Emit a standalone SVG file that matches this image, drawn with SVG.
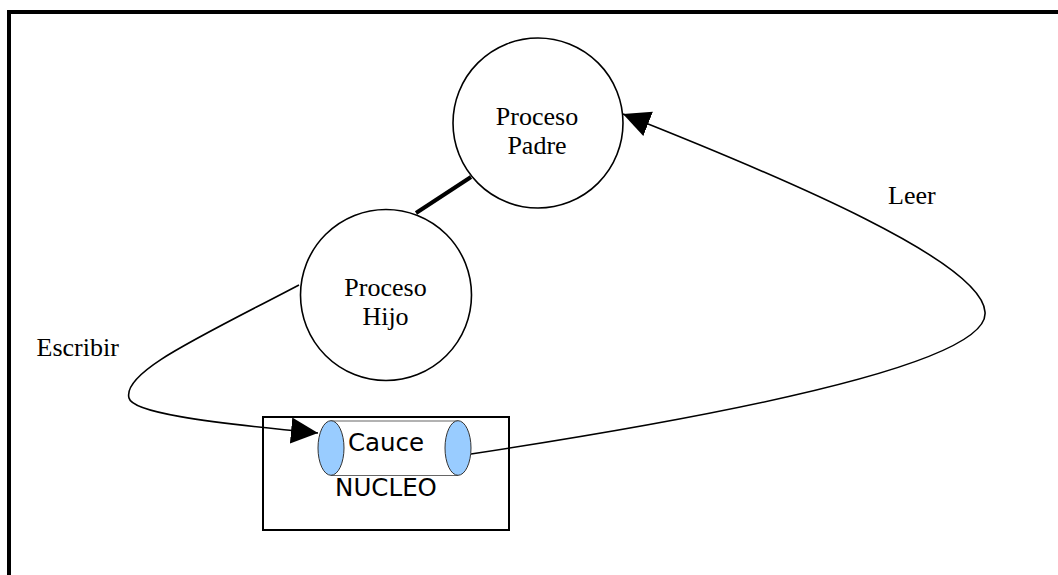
<svg xmlns="http://www.w3.org/2000/svg" width="1058" height="575" viewBox="0 0 1058 575">
  <style>
    .circ { fill: #ffffff; stroke: #000000; stroke-width: 1.6; }
    .serif { font-family: "Liberation Serif", "Times New Roman", serif; font-size: 26px; fill: #000000; }
    .sans { font-family: "DejaVu Sans", sans-serif; font-size: 24.5px; fill: #000000; }
    .conn { fill: none; stroke: #000000; stroke-width: 1.6; }
    .pipeEnd { fill: #99ccff; stroke: #333333; stroke-width: 1; }
  </style>
  <defs>
    <marker id="arrow" markerUnits="userSpaceOnUse" markerWidth="28" markerHeight="27" refX="27" refY="13" orient="auto">
      <path d="M0,0 L27,13 L0,26 Z" fill="#000000"/>
    </marker>
  </defs>
  <rect x="0" y="0" width="1058" height="575" fill="#ffffff"/>
  <rect id="frame" x="9" y="12" width="1070" height="590" fill="none" stroke="#000000" stroke-width="4"/>

  <g id="connectors">
    <line x1="416" y1="213" x2="471" y2="177" stroke="#000000" stroke-width="4"/>
    <path class="conn" d="M299,285 C200,337 122,372 129,398 C132,412 200,422 318,433" marker-end="url(#arrow)"/>
    <path class="conn" d="M471,454 C760,410 990,360 985,312 C982,262 790,180 623,114" marker-end="url(#arrow)"/>
    <text class="serif" x="36.5" y="356">Escribir</text>
    <text class="serif" x="888" y="204">Leer</text>
  </g>

  <g id="padre">
    <circle class="circ" cx="538" cy="123" r="85"/>
    <text class="serif" x="537" y="125" text-anchor="middle">Proceso</text>
    <text class="serif" x="537" y="154" text-anchor="middle">Padre</text>
  </g>

  <g id="hijo">
    <circle class="circ" cx="386" cy="295" r="85.5"/>
    <text class="serif" x="385.5" y="296" text-anchor="middle">Proceso</text>
    <text class="serif" x="385.5" y="325" text-anchor="middle">Hijo</text>
  </g>

  <g id="nucleo">
    <rect x="263" y="417" width="246" height="113" fill="none" stroke="#000000" stroke-width="2"/>
    <text class="sans" x="386" y="496" text-anchor="middle">NUCLEO</text>
  </g>

  <g id="cauce">
    <rect x="331" y="421" width="127" height="54.5" fill="#ffffff" stroke="none"/>
    <line x1="331" y1="421" x2="458" y2="421" stroke="#666666" stroke-width="1.2"/>
    <line x1="331" y1="475.5" x2="458" y2="475.5" stroke="#666666" stroke-width="1.2"/>
    <ellipse class="pipeEnd" cx="331" cy="448" rx="13" ry="27.3"/>
    <ellipse class="pipeEnd" cx="458" cy="448" rx="13" ry="27.3"/>
    <text class="sans" x="386" y="451" text-anchor="middle">Cauce</text>
  </g>
</svg>
